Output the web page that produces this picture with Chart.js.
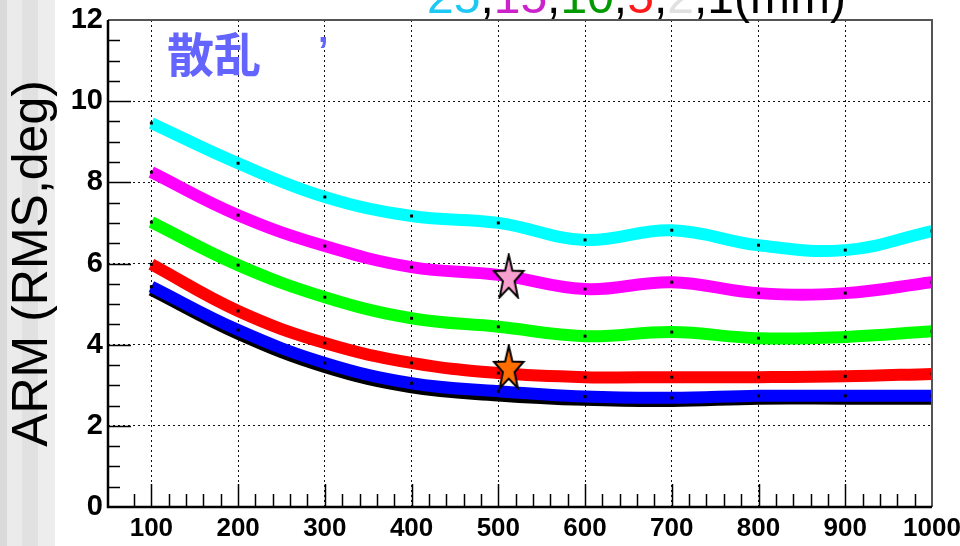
<!DOCTYPE html>
<html>
<head>
<meta charset="utf-8">
<script src="https://cdn.jsdelivr.net/npm/chart.js@4/dist/chart.umd.min.js"></script>
<style>
  html, body { margin: 0; padding: 0; background: #fff; }
  #wrap { width: 960px; height: 546px; position: relative; }
</style>
</head>
<body>
<div id="wrap"><canvas id="arm"></canvas></div>
<script>
// energy (keV) and ARM (RMS, deg) per scatterer thickness
const energies = [100, 200, 300, 400, 500, 600, 700, 800, 900, 1000];
const arm25mm = [9.46, 8.47, 7.64, 7.17, 7.00, 6.58, 6.82, 6.45, 6.33, 6.80];
const arm15mm = [8.25, 7.19, 6.43, 5.91, 5.72, 5.37, 5.54, 5.27, 5.27, 5.54];
const arm10mm = [7.02, 5.96, 5.17, 4.65, 4.44, 4.21, 4.31, 4.16, 4.19, 4.33];
const arm5mm  = [5.98, 4.83, 4.04, 3.55, 3.30, 3.20, 3.20, 3.20, 3.22, 3.28];
const arm2mm  = [5.43, 4.36, 3.55, 3.05, 2.85, 2.72, 2.69, 2.74, 2.74, 2.74];
const arm1mm  = [5.35, 4.27, 3.45, 2.95, 2.75, 2.64, 2.61, 2.67, 2.67, 2.67];
const starX = [512, 512];
const starY = [5.69, 3.45];

const seriesColors = ['#00ffff', '#ff00ff', '#00ff00', '#ff0000', '#0000ff', '#000000'];
const seriesData = [arm25mm, arm15mm, arm10mm, arm5mm, arm2mm, arm1mm];

function makeStar(fill) {
    const c = document.createElement('canvas');
    c.width = 34; c.height = 46;
    const g = c.getContext('2d');
    const cx = 17, cy = 25.2, rx = 15.5, ry = 23.5;
    g.beginPath();
    for (let i = 0; i < 10; i++) {
        const a = -Math.PI / 2 + i * Math.PI / 5;
        const k = i % 2 === 0 ? 1 : 0.4;
        const px = cx + Math.cos(a) * rx * k, py = cy + Math.sin(a) * ry * k;
        if (i === 0) g.moveTo(px, py); else g.lineTo(px, py);
    }
    g.closePath();
    g.fillStyle = fill;
    g.fill();
    g.lineWidth = 2;
    g.strokeStyle = '#000';
    g.stroke();
    return c;
}
const starImgs = [makeStar('#f7a0cf'), makeStar('#ff6d00')];

const datasets = seriesData.map((vals, i) => ({
    data: energies.map((e, j) => ({ x: e, y: vals[j] })),
    borderColor: seriesColors[i],
    borderWidth: 12,
    tension: 0.4,
    pointStyle: 'rect',
    pointRadius: 2.1,
    pointBackgroundColor: '#000',
    pointBorderWidth: 0,
    order: i === 4 ? 1 : (i === 5 ? 2 : 3)
}));
datasets.push({
    data: starX.map((x, i) => ({ x: x, y: starY[i] })),
    showLine: false,
    pointStyle: starImgs,
    pointRadius: 12,
    order: 0
});

const deco = {
    id: 'deco',
    beforeDraw(chart) {
        const ctx = chart.ctx;
        ctx.save();
        ctx.fillStyle = '#fff';
        ctx.fillRect(0, 0, chart.width, chart.height);
        const stripes = [[0, 7, '#dadada'], [7, 22, '#ebebeb'], [22, 38, '#e1e1e1'], [38, 55, '#ededed']];
        stripes.forEach(s => { ctx.fillStyle = s[2]; ctx.fillRect(s[0], 0, s[1] - s[0], chart.height); });
        ctx.restore();
    },
    afterDraw(chart) {
        const ctx = chart.ctx;
        const {left, right, top, bottom} = chart.chartArea;
        const xs = chart.scales.x, ys = chart.scales.y;
        ctx.save();
        // inward ticks
        ctx.strokeStyle = '#000';
        ctx.lineWidth = 1.5;
        ctx.beginPath();
        xs.ticks.forEach(t => {
            if (t.value <= 50 || t.value >= 1000) return;
            const px = Math.round(xs.getPixelForValue(t.value)) + 0.5;
            const len = t.value % 100 === 0 ? 23 : 13;
            ctx.moveTo(px, bottom); ctx.lineTo(px, bottom - len);
        });
        ys.ticks.forEach(t => {
            if (t.value <= 0 || t.value >= 12) return;
            const py = Math.round(ys.getPixelForValue(t.value)) + 0.5;
            const len = t.value % 2 === 0 ? 23 : 12;
            ctx.moveTo(left, py); ctx.lineTo(left + len, py);
        });
        ctx.stroke();
        // frame
        ctx.strokeStyle = '#555';
        ctx.lineWidth = 2;
        ctx.beginPath();
        ctx.moveTo(left, top); ctx.lineTo(right, top); ctx.lineTo(right, bottom);
        ctx.stroke();
        ctx.strokeStyle = '#000';
        ctx.lineWidth = 2.5;
        ctx.beginPath();
        ctx.moveTo(left, top); ctx.lineTo(left, bottom); ctx.lineTo(right, bottom);
        ctx.stroke();

        // title, cut at the top of the picture
        const parts = [['25', '#1ec8f5'], [',', '#000'], ['15', '#cc22cc'], [',', '#000'], ['10', '#009900'],
            [',', '#000'], ['5', '#ff1a1a'], [',', '#000'], ['2', '#e0e0e0'], [',', '#000'], ['1', '#000'], ['(mm)', '#000']];
        ctx.font = '48px "Liberation Sans", Arial, sans-serif';
        ctx.textBaseline = 'alphabetic';
        ctx.textAlign = 'left';
        let tx = 427;
        parts.forEach(p => {
            ctx.fillStyle = p[1];
            ctx.fillText(p[0], tx, 12.5);
            tx += ctx.measureText(p[0]).width;
        });

        ctx.fillStyle = '#6464ff';
        ctx.font = 'bold 47px "Noto Sans CJK JP", sans-serif';
        ctx.textBaseline = 'middle';
        ctx.fillText('散乱', 167, 54);
        ctx.font = 'bold 38px "Liberation Sans", Arial, sans-serif';
        ctx.textBaseline = 'alphabetic';
        ctx.fillText('\u2019', 318, 64);
        ctx.restore();
    }
};

new Chart(document.getElementById('arm'), {
    type: 'line',
    data: { datasets: datasets },
    plugins: [deco],
    options: {
        responsive: true,
        maintainAspectRatio: false,
        animation: false,
        events: [],
        layout: { padding: { left: 0, right: 28, top: 20, bottom: 0 } },
        plugins: { legend: { display: false }, tooltip: { enabled: false } },
        scales: {
            x: {
                type: 'linear',
                min: 50,
                max: 1000,
                afterFit: s => { s.height = 39; s.paddingLeft = 0; s.paddingRight = 0; },
                border: { display: false, dash: [2, 3] },
                grid: {
                    drawTicks: false,
                    lineWidth: 1,
                    color: c => (c.tick && c.tick.value % 100 === 0 && c.tick.value > 50 && c.tick.value < 1000) ? '#111' : 'rgba(0,0,0,0)'
                },
                ticks: {
                    stepSize: 20,
                    autoSkip: false,
                    maxRotation: 0,
                    padding: 6,
                    color: '#000',
                    font: { family: '"Liberation Sans", Arial, sans-serif', size: 26, weight: 'bold' },
                    callback: v => (v % 100 === 0 ? String(v) : '')
                }
            },
            y: {
                min: 0,
                max: 12,
                afterFit: s => { s.width = 108; s.paddingTop = 0; s.paddingBottom = 0; },
                border: { display: false, dash: [2, 3] },
                grid: {
                    drawTicks: false,
                    lineWidth: 1,
                    color: c => (c.tick && c.tick.value % 2 === 0 && c.tick.value > 0 && c.tick.value < 12) ? '#111' : 'rgba(0,0,0,0)'
                },
                ticks: {
                    stepSize: 0.5,
                    autoSkip: false,
                    padding: 5,
                    color: '#000',
                    font: { family: '"Liberation Sans Narrow", "Liberation Sans", sans-serif', size: 29, weight: 'bold' },
                    callback: v => (v % 2 === 0 ? String(v) : '')
                },
                title: {
                    display: true,
                    text: 'ARM (RMS,deg)',
                    color: '#000',
                    padding: { top: 3, bottom: 0 },
                    font: { family: '"Liberation Sans", Arial, sans-serif', size: 50, weight: 'normal' }
                }
            }
        }
    }
});
</script>
</body>
</html>
